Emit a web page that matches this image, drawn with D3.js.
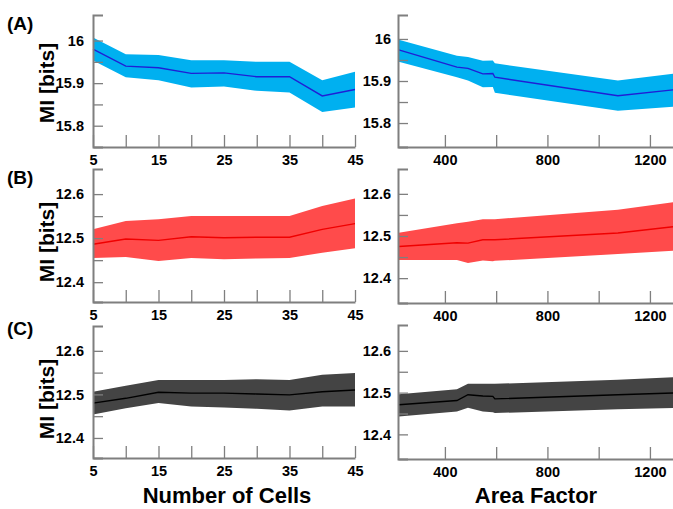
<!DOCTYPE html>
<html>
<head>
<meta charset="utf-8">
<script src="https://cdn.jsdelivr.net/npm/d3@7"></script>
<style>
  body { margin: 0; background: #fff; }
  svg { display: block; }
  .tick text { font-family: "Liberation Sans", Arial, sans-serif; font-weight: bold; font-size: 14.5px; fill: #000; }
</style>
</head>
<body>
<svg id="chart" width="673" height="509"></svg>
<script>
// x values
var cells = [5, 10, 15, 20, 25, 30, 35, 40, 45];
var areaFactor = [220, 447, 490, 548, 587, 595, 1075, 1290];

// (A) MI vs number of cells / area factor
var aCellsMean = [15.980, 15.940, 15.936, 15.923, 15.924, 15.915, 15.915, 15.870, 15.885];
var aCellsHigh = [16.007, 15.968, 15.966, 15.954, 15.954, 15.950, 15.950, 15.907, 15.927];
var aCellsLow  = [15.953, 15.914, 15.907, 15.890, 15.892, 15.882, 15.878, 15.832, 15.843];
var aAreaMean = [15.974, 15.933, 15.930, 15.917, 15.918, 15.909, 15.865, 15.879];
var aAreaHigh = [15.998, 15.960, 15.957, 15.948, 15.949, 15.942, 15.901, 15.917];
var aAreaLow  = [15.946, 15.909, 15.901, 15.885, 15.886, 15.872, 15.829, 15.839];

// (B)
var bCellsMean = [12.486, 12.498, 12.495, 12.503, 12.501, 12.502, 12.502, 12.520, 12.533];
var bCellsHigh = [12.520, 12.539, 12.543, 12.550, 12.550, 12.550, 12.550, 12.573, 12.590];
var bCellsLow  = [12.455, 12.457, 12.448, 12.455, 12.452, 12.454, 12.455, 12.467, 12.477];
var bAreaMean = [12.475, 12.484, 12.483, 12.491, 12.491, 12.491, 12.507, 12.522];
var bAreaHigh = [12.508, 12.530, 12.534, 12.540, 12.540, 12.540, 12.562, 12.580];
var bAreaLow  = [12.443, 12.443, 12.436, 12.442, 12.440, 12.441, 12.457, 12.465];

// (C)
var cCellsMean = [12.480, 12.491, 12.505, 12.503, 12.503, 12.501, 12.499, 12.506, 12.510];
var cCellsHigh = [12.506, 12.520, 12.533, 12.533, 12.533, 12.535, 12.533, 12.545, 12.549];
var cCellsLow  = [12.454, 12.468, 12.480, 12.472, 12.470, 12.467, 12.463, 12.472, 12.472];
var cAreaMean = [12.471, 12.481, 12.495, 12.492, 12.491, 12.485, 12.495, 12.499];
var cAreaHigh = [12.496, 12.508, 12.521, 12.521, 12.521, 12.521, 12.531, 12.537];
var cAreaLow  = [12.443, 12.455, 12.464, 12.455, 12.453, 12.451, 12.460, 12.463];

// ticks
var cellTicks = [5, 10, 15, 20, 25, 30, 35, 40, 45];
var cellTickLabels = [5, 15, 25, 35, 45];
var areaTicks = [400, 600, 800, 1000, 1200];
var areaTickLabels = [400, 800, 1200];
var yTicksA = [15.8, 15.85, 15.9, 15.95, 16];
var yTickLabelsA = [15.8, 15.9, 16];
var yTicksBC = [12.4, 12.45, 12.5, 12.55, 12.6];
var yTickLabelsBC = [12.4, 12.5, 12.6];

var svg = d3.select("#chart");

function drawPanel(p) {
  var x = d3.scaleLinear().domain(p.xDomain).range(p.xRange);
  var y = d3.scaleLinear().domain(p.yDomain).range([p.bottom, p.top]);
  var g = svg.append("g");

  var idx = d3.range(p.xs.length);
  var area = d3.area()
    .x(function(i) { return x(p.xs[i]); })
    .y0(function(i) { return y(p.low[i]); })
    .y1(function(i) { return y(p.high[i]); });
  var line = d3.line()
    .x(function(i) { return x(p.xs[i]); })
    .y(function(i) { return y(p.mean[i]); });

  g.append("path").attr("d", area(idx)).attr("fill", p.band);
  g.append("path").attr("d", line(idx)).attr("fill", "none")
    .attr("stroke", p.lineColor).attr("stroke-width", 1.4);

  var xa = g.append("g")
    .attr("transform", "translate(0," + p.bottom + ")")
    .call(d3.axisBottom(x).tickValues(p.xTicks).tickSize(-12).tickSizeOuter(0).tickPadding(8)
      .tickFormat(function(d) { return p.xLabels.indexOf(d) >= 0 ? d : ""; }));
  var ya = g.append("g")
    .attr("transform", "translate(" + p.xRange[0] + ",0)")
    .call(d3.axisLeft(y).tickValues(p.yTicks).tickSize(-10).tickSizeOuter(-10).tickPadding(p.yPad)
      .tickFormat(function(d) { return p.yLabels.indexOf(d) >= 0 ? d : ""; }));
  [xa, ya].forEach(function(a) {
    a.select(".domain").attr("stroke", "#7f7f7f").attr("stroke-width", 2);
    a.selectAll(".tick line").attr("stroke", "#7f7f7f").attr("stroke-width", 1.3);
  });
}

var rows = [
  {top: 15, bottom: 147, label: "(A)", labY: 30, midY: 83, band: "#00b0f0", lineColor: "#1f1fd6",
   left: [cells, aCellsMean, aCellsLow, aCellsHigh, [15.75, 16.06]],
   right: [areaFactor, aAreaMean, aAreaLow, aAreaHigh, [15.743, 16.057]],
   yTicks: yTicksA, yLabels: yTickLabelsA, rightBottom: 147, rightTop: 15},
  {top: 169, bottom: 302, label: "(B)", labY: 184, midY: 242, band: "#ff4b4b", lineColor: "#f00000",
   left: [cells, bCellsMean, bCellsLow, bCellsHigh, [12.355, 12.657]],
   right: [areaFactor, bAreaMean, bAreaLow, bAreaHigh, [12.341, 12.659]],
   yTicks: yTicksBC, yLabels: yTickLabelsBC, rightBottom: 303, rightTop: 169},
  {top: 326, bottom: 458, label: "(C)", labY: 335, midY: 399, band: "#444444", lineColor: "#000000",
   left: [cells, cCellsMean, cCellsLow, cCellsHigh, [12.354, 12.657]],
   right: [areaFactor, cAreaMean, cAreaLow, cAreaHigh, [12.341, 12.662]],
   yTicks: yTicksBC, yLabels: yTickLabelsBC, rightBottom: 459, rightTop: 325}
];

rows.forEach(function(r) {
  drawPanel({xs: r.left[0], mean: r.left[1], low: r.left[2], high: r.left[3],
    xDomain: [5, 45], xRange: [93, 355], yDomain: r.left[4], top: r.top, bottom: r.bottom,
    band: r.band, lineColor: r.lineColor, xTicks: cellTicks, xLabels: cellTickLabels,
    yTicks: r.yTicks, yLabels: r.yLabels, yPad: 9});
  drawPanel({xs: r.right[0], mean: r.right[1], low: r.right[2], high: r.right[3],
    xDomain: [217, 1290], xRange: [398, 673], yDomain: r.right[4], top: r.rightTop, bottom: r.rightBottom,
    band: r.band, lineColor: r.lineColor, xTicks: areaTicks, xLabels: areaTickLabels,
    yTicks: r.yTicks, yLabels: r.yLabels, yPad: 7});

  svg.append("text").text(r.label)
    .attr("x", 7).attr("y", r.labY)
    .style("font-family", "Liberation Sans, Arial, sans-serif")
    .style("font-weight", "bold").style("font-size", "19px");

  svg.append("text").text("MI [bits]")
    .attr("transform", "translate(54," + r.midY + ") rotate(-90)")
    .attr("text-anchor", "middle")
    .style("font-family", "Liberation Sans, Arial, sans-serif")
    .style("font-weight", "bold").style("font-size", "21px");
});

svg.append("text").text("Number of Cells")
  .attr("x", 227).attr("y", 503).attr("text-anchor", "middle")
  .style("font-family", "Liberation Sans, Arial, sans-serif")
  .style("font-weight", "bold").style("font-size", "22px");
svg.append("text").text("Area Factor")
  .attr("x", 536).attr("y", 503).attr("text-anchor", "middle")
  .style("font-family", "Liberation Sans, Arial, sans-serif")
  .style("font-weight", "bold").style("font-size", "22px");
</script>
</body>
</html>
